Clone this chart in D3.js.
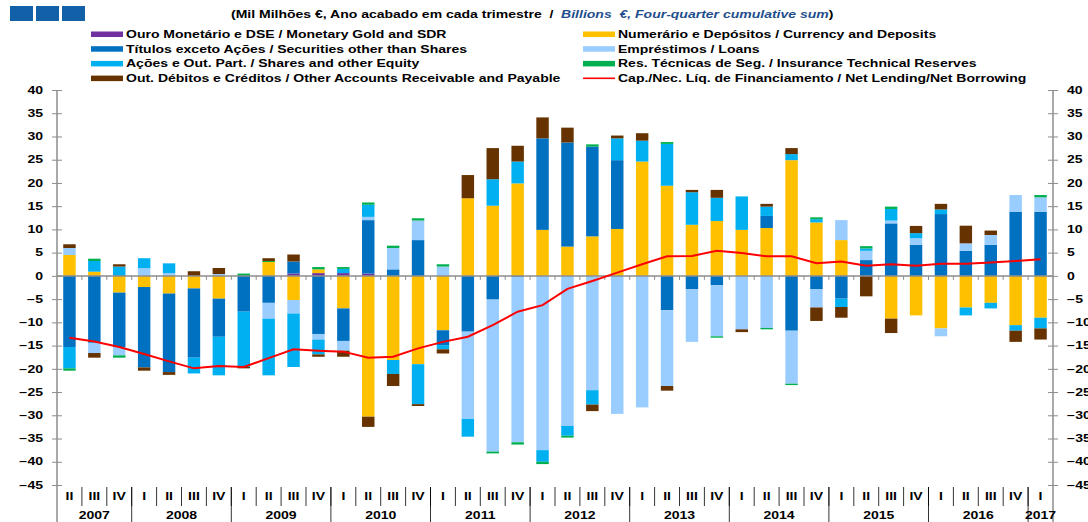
<!DOCTYPE html>
<html>
<head>
<meta charset="utf-8">
<script src="https://cdn.jsdelivr.net/npm/d3@7"></script>
<style>
  body { margin: 0; background: #fff; }
  text { font-family: "Liberation Sans", Arial, sans-serif; font-weight: bold; }
</style>
</head>
<body>
<div id="chart"></div>
<script>
// chart data (Mil Milhões € / Billions €, four-quarter cumulative sum)
const yearLabels = ["2007","2008","2009","2010","2011","2012","2013","2014","2015","2016","2017"];
const quartersPerYear = [3,4,4,4,4,4,4,4,4,4,1];
const quarterLabels = ["II","III","IV",
  "I","II","III","IV", "I","II","III","IV", "I","II","III","IV", "I","II","III","IV",
  "I","II","III","IV", "I","II","III","IV", "I","II","III","IV", "I","II","III","IV",
  "I","II","III","IV", "I"];

const ouro        = [0,0,0,0,0,0,0,0,0,0.5, 0.6,0.6,0.5,0,0,0,0,0,0,0, 0,0,0,0,0,0,0,0,0,0, 0,0,0,0,0,0,0,0,0,0];
const numerario   = [4.5,0.9,-3.6,-2.4,-3.8,-2.7,-4.9,0,3.0,-5.2, 0.8,-7.0,-30.3,-18.1,-19.0,-11.7,16.7,15.1,19.9,9.9,
                     6.3,8.5,10.1,24.6,19.4,11.0,11.8,9.9,10.3,24.9, 11.5,7.7,0,-9.2,-8.5,-11.3,-6.8,-5.8,-10.6,-9.0];
const titulos     = [-15.3,-14.4,-11.8,-17.3,-16.9,-14.9,-8.2,-7.7,-5.8,2.6, -12.5,-7.0,11.5,1.4,7.7,-3.2,-12.0,-5.1,-0.2,19.7,
                     22.4,19.3,14.8,0,-7.4,-2.9,-2.0,0,2.6,-11.8, -2.9,-4.9,3.4,11.3,6.7,13.3,5.4,6.7,13.8,13.8];
const emprestimos = [1.5,-2.2,-1.7,1.65,0.6,0,0.4,0,-3.4,-2.9, -1.2,-2.1,0.7,4.6,4.2,2.0,-18.8,-32.7,-35.6,-37.5,
                     -32.3,-24.6,-29.7,-28.3,-16.3,-11.3,-11.0,-11.5,-11.2,-11.4, -3.9,4.3,2.0,0.6,1.4,-1.7,1.6,2.1,3.6,3.1];
const acoes       = [-4.6,2.3,2.0,2.15,2.1,-3.4,-8.3,-11.9,-12.2,-11.5, -3.2,0.9,2.6,-3.0,-8.6,-0.9,-3.8,5.7,4.7,-2.5,
                     -2.1,-3.1,4.7,4.5,9.0,7.0,5.0,7.2,2.0,1.3, 0.7,-1.8,0.5,2.5,1.1,1.0,-1.7,-1.2,-1.2,-2.3];
const reservas    = [-0.5,0.5,-0.5,0,0,0,0,0.5,0.2,0, 0.5,0.4,0.5,0.5,0.5,0.5,0,-0.4,-0.5,-0.5,
                     -0.4,0.5,0,0,0.4,0,-0.3,0,-0.3,-0.3, 0.4,0,0.5,0.5,0,0,0,0,0,0.5];
const outros      = [0.8,-1.0,0.5,-0.7,-0.6,1.0,1.3,-0.3,0.6,1.5, -0.5,-1.3,-2.2,-2.6,-0.4,-0.9,5.0,6.7,3.4,4.5,
                     3.2,-1.4,0.6,1.6,-1.0,0.5,1.7,-0.6,0.6,1.3, -2.9,-2.3,-4.4,-3.1,1.55,1.2,3.8,0.95,-2.4,-2.4];
const netLending  = [-13.3,-14.1,-15.3,-16.8,-18.4,-19.9,-19.4,-19.6,-17.7,-15.8, -16.1,-16.3,-17.6,-17.4,-15.6,-14.2,-13.1,-10.6,-7.7,-6.3,
                     -2.8,-1.1,0.7,2.5,4.2,4.3,5.4,4.9,4.2,4.2, 2.7,3.1,2.2,2.5,2.2,2.6,2.6,2.9,3.2,3.6];

const yTicks = d3.range(-45, 41, 5);

const seriesKeys = ["ouro","numerario","titulos","emprestimos","acoes","reservas","outros"];
const seriesValues = [ouro, numerario, titulos, emprestimos, acoes, reservas, outros];
const seriesColors = ["#7030a0","#ffc000","#0070c0","#99ccff","#00b0f0","#00b050","#663300"];
const seriesLabels = [
  "Ouro Monetário e DSE / Monetary Gold and SDR",
  "Numerário e Depósitos / Currency and Deposits",
  "Títulos exceto Ações / Securities other than Shares",
  "Empréstimos / Loans",
  "Ações e Out. Part. / Shares and other Equity",
  "Res. Técnicas de Seg. / Insurance Technical Reserves",
  "Out. Débitos e Créditos / Other Accounts Receivable and Payable"
];
const lineLabel = "Cap./Nec. Líq. de Financiamento / Net Lending/Net Borrowing";

const width = 1088, height = 522;
const plot = {left: 57, right: 1053, top: 90, bottom: 485};
const stretch = 1.4;   // the picture is wide, so the text is drawn wide too
const axisColor = "#8c8c8c";

const svg = d3.select("#chart").append("svg")
    .attr("width", width)
    .attr("height", height);

function widen(sel) {
  sel.each(function() {
    const w = this.getComputedTextLength();
    d3.select(this).attr("textLength", w * stretch).attr("lengthAdjust", "spacingAndGlyphs");
  });
}

// scales
const x = d3.scaleBand()
    .domain(d3.range(quarterLabels.length))
    .range([plot.left, plot.right])
    .paddingInner(0.5)
    .paddingOuter(0.25);

const y = d3.scaleLinear()
    .domain([-45, 40])
    .range([plot.bottom, plot.top]);

// edge between quarter k-1 and k
const boundary = k => x(0) - x.step() * x.paddingOuter() + k * x.step();

// top left blue boxes
svg.selectAll("rect.box")
  .data([0, 1, 2])
  .join("rect")
    .attr("class", "box")
    .attr("x", d => 10 + d * 26)
    .attr("y", 6)
    .attr("width", 23)
    .attr("height", 15)
    .attr("fill", "#1160a8");

// title
const titleParts = [
  {t: "(Mil Milhões €, Ano acabado em cada trimestre  /  ", c: "#000", s: "normal"},
  {t: "Billions  €, Four-quarter cumulative sum", c: "#1f4e8c", s: "italic"},
  {t: ")", c: "#000", s: "normal"}
];
let tx = 231;
titleParts.forEach(p => {
  const t = svg.append("text")
      .attr("x", tx)
      .attr("y", 18)
      .attr("font-size", 10)
      .attr("fill", p.c)
      .attr("font-style", p.s)
      .attr("xml:space", "preserve")
      .style("white-space", "pre")
      .text(p.t);
  widen(t);
  tx += +t.attr("textLength");
});

// legend
const legendItems = [
  {i: 0, col: 0, row: 0}, {i: 2, col: 0, row: 1}, {i: 4, col: 0, row: 2}, {i: 6, col: 0, row: 3},
  {i: 1, col: 1, row: 0}, {i: 3, col: 1, row: 1}, {i: 5, col: 1, row: 2}, {i: -1, col: 1, row: 3}
];
const legendX = [91, 583];
const legend = svg.append("g");
legendItems.forEach(d => {
  const lx = legendX[d.col], ly = 38 + d.row * 14.7;
  if (d.i >= 0) {
    legend.append("rect")
        .attr("x", lx).attr("y", ly - 6.5)
        .attr("width", 32).attr("height", 5.5)
        .attr("fill", seriesColors[d.i]);
  } else {
    legend.append("line")
        .attr("x1", lx).attr("x2", lx + 32)
        .attr("y1", ly - 3.8).attr("y2", ly - 3.8)
        .attr("stroke", "#ff0000").attr("stroke-width", 1.6);
  }
  const t = legend.append("text")
      .attr("x", lx + 35)
      .attr("y", ly)
      .attr("font-size", 10)
      .text(d.i >= 0 ? seriesLabels[d.i] : lineLabel);
  widen(t);
});

// stacked bars
const table = quarterLabels.map((q, i) => {
  const row = {i: i};
  seriesKeys.forEach((k, j) => row[k] = seriesValues[j][i]);
  return row;
});

const stacked = d3.stack()
    .keys(seriesKeys)
    .offset(d3.stackOffsetDiverging)(table);

svg.append("g")
  .selectAll("g")
  .data(stacked)
  .join("g")
    .attr("fill", (d, j) => seriesColors[j])
  .selectAll("rect")
  .data(d => d.filter(p => p[1] !== p[0]))
  .join("rect")
    .attr("x", d => x(d.data.i))
    .attr("width", x.bandwidth())
    .attr("y", d => y(Math.max(d[0], d[1])))
    .attr("height", d => Math.abs(y(d[0]) - y(d[1])));

// zero line with small ticks
svg.append("line")
    .attr("x1", plot.left).attr("x2", plot.right)
    .attr("y1", y(0)).attr("y2", y(0))
    .attr("stroke", axisColor).attr("stroke-width", 1.5);

svg.append("g")
  .selectAll("line")
  .data(d3.range(1, quarterLabels.length))
  .join("line")
    .attr("x1", k => boundary(k)).attr("x2", k => boundary(k))
    .attr("y1", y(0)).attr("y2", y(0) + 4)
    .attr("stroke", axisColor);

// net lending line
svg.append("path")
    .datum(netLending)
    .attr("fill", "none")
    .attr("stroke", "#ff0000")
    .attr("stroke-width", 2)
    .attr("d", d3.line()
        .x((d, i) => x(i) + x.bandwidth() / 2)
        .y(d => y(d)));

// y axes, both sides, ticks crossing the line
function drawAxis(axis, xpos, side) {
  const g = svg.append("g")
      .attr("transform", `translate(${xpos},0)`)
      .call(axis.tickValues(yTicks).tickSize(5).tickPadding(9).tickFormat(d3.format("d")));
  g.select(".domain").remove();
  g.selectAll(".tick line").attr("stroke", axisColor)
      .clone().attr("x2", -side * 5);
  g.selectAll(".tick text")
      .attr("font-size", 10)
      .attr("font-family", null)
      .attr("fill", "#000")
      .call(widen);
  g.append("line")
      .attr("y1", plot.top).attr("y2", height)
      .attr("stroke", axisColor).attr("stroke-width", 1.5);
}
drawAxis(d3.axisLeft(y), plot.left, -1);
drawAxis(d3.axisRight(y), plot.right, 1);

// category table under the chart
const table0 = 487;
svg.append("g")
  .selectAll("line")
  .data(d3.range(1, quarterLabels.length))
  .join("line")
    .attr("x1", k => boundary(k)).attr("x2", k => boundary(k))
    .attr("y1", table0).attr("y2", 506)
    .attr("stroke", "#000").attr("stroke-width", 0.8);

const yearStarts = Array.from(d3.cumsum(quartersPerYear));
svg.append("g")
  .selectAll("line")
  .data(yearStarts.slice(0, -1))
  .join("line")
    .attr("x1", k => boundary(k)).attr("x2", k => boundary(k))
    .attr("y1", table0).attr("y2", height)
    .attr("stroke", "#000").attr("stroke-width", 0.8);

svg.append("g")
  .selectAll("text")
  .data(quarterLabels)
  .join("text")
    .attr("x", (d, i) => x(i) + x.bandwidth() / 2)
    .attr("y", 500)
    .attr("text-anchor", "middle")
    .attr("font-size", 10)
    .text(d => d)
    .call(widen);

svg.append("g")
  .selectAll("text")
  .data(yearLabels)
  .join("text")
    .attr("x", (d, j) => {
      const start = j === 0 ? 0 : yearStarts[j - 1];
      return (boundary(start) + boundary(start + quartersPerYear[j])) / 2;
    })
    .attr("y", 519)
    .attr("text-anchor", "middle")
    .attr("font-size", 10)
    .text(d => d)
    .call(widen);
</script>
</body>
</html>
